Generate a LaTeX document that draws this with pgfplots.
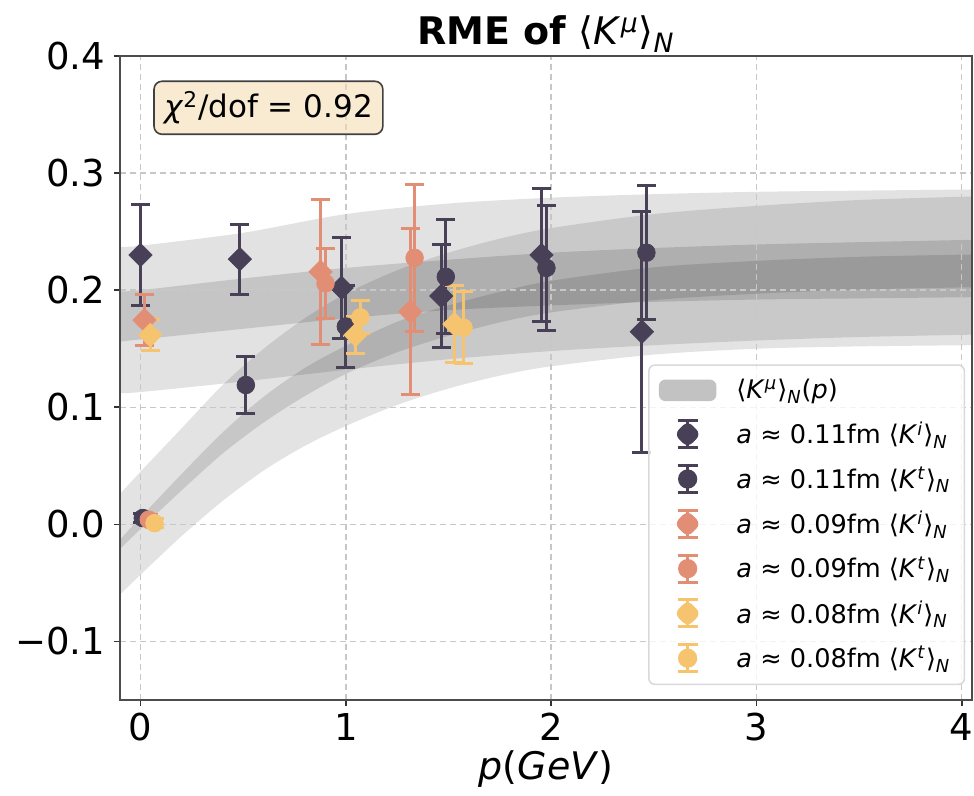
\documentclass[border=0pt]{standalone}
\usepackage{fontspec}
\setmainfont{DejaVu Sans}
\usepackage{pgfplots}
\pgfplotsset{compat=1.18}
\usepackage{pgfplotstable}
\usepgfplotslibrary{fillbetween}

\definecolor{cDark}{RGB}{72,64,86}
\definecolor{cSalmon}{RGB}{226,142,116}
\definecolor{cYellow}{RGB}{246,196,110}
\definecolor{wheat}{RGB}{245,222,179}

\newcommand{\Km}[1]{⟨\textit{K}\textsuperscript{\textit{#1}}⟩\textsubscript{\textit{N}}}

% fit bands: p lo hi
\pgfplotstableread{
p lo hi
-0.1 0.112 0.237
0.0 0.113 0.238
0.5 0.122 0.249
1.0 0.132 0.265
1.5 0.141 0.274
2.0 0.148 0.279
2.5 0.153 0.282
3.0 0.157 0.284
3.5 0.160 0.285
4.05 0.162 0.286
}\KiOuter
\pgfplotstableread{
p lo hi
-0.1 0.156 0.199
0.0 0.158 0.200
0.5 0.167 0.210
1.0 0.176 0.219
1.5 0.183 0.226
2.0 0.187 0.232
2.5 0.190 0.236
3.0 0.192 0.239
3.5 0.193 0.241
4.05 0.194 0.243
}\KiInner
\pgfplotstableread{
p lo hi
-0.1 -0.060 0.026
0.0 -0.043 0.045
0.2 -0.010 0.082
0.4 0.020 0.119
0.6 0.046 0.150
0.8 0.067 0.176
1.0 0.084 0.197
1.25 0.102 0.217
1.5 0.116 0.232
1.75 0.127 0.244
2.0 0.135 0.253
2.5 0.145 0.265
3.0 0.150 0.272
3.5 0.152 0.277
4.05 0.153 0.280
}\KtOuter
\pgfplotstableread{
p lo hi
-0.1 -0.021 -0.013
0.0 -0.004 0.006
0.2 0.029 0.043
0.4 0.0605 0.0785
0.6 0.087 0.109
0.8 0.1095 0.1335
1.0 0.1285 0.1525
1.25 0.147 0.173
1.5 0.161 0.187
1.75 0.1725 0.1985
2.0 0.181 0.208
2.5 0.1915 0.2195
3.0 0.197 0.225
3.5 0.2005 0.2285
4.05 0.2025 0.2305
}\KtInner

% data points: p v e
\pgfplotstableread{
p v e
0.000 0.230 0.043
0.484 0.2265 0.030
0.979 0.202 0.043
1.465 0.195 0.044
1.953 0.230 0.057
2.442 0.1645 0.103
}\dKi
\pgfplotstableread{
p v e
0.011 0.0054 0.004
0.513 0.119 0.0245
1.000 0.169 0.035
1.487 0.2114 0.0486
1.977 0.219 0.0535
2.464 0.232 0.057
}\dKt
\pgfplotstableread{
p v e
0.019 0.1745 0.022
0.877 0.2157 0.062
1.314 0.1816 0.071
}\sKi
\pgfplotstableread{
p v e
0.040 0.004 0.004
0.901 0.2058 0.030
1.335 0.2276 0.063
}\sKt
\pgfplotstableread{
p v e
0.047 0.1617 0.013
1.047 0.1617 0.016
1.529 0.171 0.033
}\yKi
\pgfplotstableread{
p v e
0.068 0.001 0.004
1.071 0.1768 0.014
1.573 0.168 0.031
}\yKt

\pgfplotsset{
  errpts/.style={only marks,
    error bars/.cd, y dir=both, y explicit,
    error bar style={line width=1.5pt, opacity=1},
    error mark options={rotate=90, line width=1.5pt, mark size=4.75pt}},
  dia/.style={mark=square*, mark size=4.1pt, mark options={rotate=45, fill=#1, draw=#1, opacity=1}},
  circ/.style={mark=*, mark size=4.4pt, mark options={fill=#1, draw=#1, opacity=1}},
  legdia/.style={legend image code/.code={
     \path (0pt,0pt) (36pt,0pt);
     \draw[#1, line width=1.5pt, draw opacity=1] (14pt,-6.75pt) -- (14pt,6.75pt);
     \draw[#1, line width=1.5pt, draw opacity=1] (9pt,-6.75pt) -- (19pt,-6.75pt);
     \draw[#1, line width=1.5pt, draw opacity=1] (9pt,6.75pt) -- (19pt,6.75pt);
     \fill[#1, fill opacity=1] (14pt,-6.2pt) -- (20.2pt,0pt) -- (14pt,6.2pt) -- (7.8pt,0pt) -- cycle;}},
  legcirc/.style={legend image code/.code={
     \path (0pt,0pt) (36pt,0pt);
     \draw[#1, line width=1.5pt, draw opacity=1] (14pt,-6.75pt) -- (14pt,6.75pt);
     \draw[#1, line width=1.5pt, draw opacity=1] (9pt,-6.75pt) -- (19pt,-6.75pt);
     \draw[#1, line width=1.5pt, draw opacity=1] (9pt,6.75pt) -- (19pt,6.75pt);
     \fill[#1, fill opacity=1] (14pt,0pt) circle (4.4pt);}},
}

\begin{document}
\begin{tikzpicture}
\begin{axis}[
  set layers,
  scale only axis, width=426pt, height=322pt,
  at={(0,0)}, anchor=south west,
  xmin=-0.1, xmax=4.05, ymin=-0.15, ymax=0.4,
  xtick={0,1,2,3,4}, xticklabels={0,1,2,3,4},
  ytick={-0.1,0,0.1,0.2,0.3,0.4}, yticklabels={−0.1,0.0,0.1,0.2,0.3,0.4},
  tick label style={font=\fontsize{18.5}{22}\selectfont},
  yticklabel style={xshift=-1pt},
  tick align=outside, tick pos=left, major tick length=3pt,
  tick style={black!80, line width=0.8pt},
  axis line style={black!70, line width=1pt},
  grid=major,
  grid style={black!22, line width=0.7pt, dash pattern=on 3pt off 2pt},
  title={\textbf{RME of} \Km{μ}},
  title style={font=\fontsize{19}{23}\selectfont, at={(rel axis cs:0.5,1)}, anchor=base, yshift=-0.5pt},
  xlabel={\textit{p}(\textit{GeV})},
  xlabel style={font=\fontsize{19}{23}\selectfont, at={(rel axis cs:0.5,0)}, anchor=base, yshift=-40pt},
  legend cell align=left,
  legend style={at={(rel axis cs:0.992,0.023)}, anchor=south east,
    draw=black!15, line width=0.8pt, rounded corners=3pt,
    fill=white, fill opacity=0.8, text opacity=1,
    font=\fontsize{12.8}{15}\selectfont, row sep=6pt,
    inner xsep=5pt, inner ysep=5pt},
]
% bands
\addplot[draw=none, mark=none, smooth, forget plot, name path=A1] table[x=p,y=hi]{\KiOuter};
\addplot[draw=none, mark=none, smooth, forget plot, name path=A2] table[x=p,y=lo]{\KiOuter};
\addplot[fill=black, fill opacity=0.115, draw=none, forget plot] fill between[of=A1 and A2, on layer=axis background];
\addplot[draw=none, mark=none, smooth, forget plot, name path=B1] table[x=p,y=hi]{\KiInner};
\addplot[draw=none, mark=none, smooth, forget plot, name path=B2] table[x=p,y=lo]{\KiInner};
\addplot[fill=black, fill opacity=0.13, draw=none, forget plot] fill between[of=B1 and B2, on layer=axis background];
\addplot[draw=none, mark=none, smooth, forget plot, name path=C1] table[x=p,y=hi]{\KtOuter};
\addplot[draw=none, mark=none, smooth, forget plot, name path=C2] table[x=p,y=lo]{\KtOuter};
\addplot[fill=black, fill opacity=0.11, draw=none, forget plot] fill between[of=C1 and C2, on layer=axis background];
\addplot[draw=none, mark=none, smooth, forget plot, name path=D1] table[x=p,y=hi]{\KtInner};
\addplot[draw=none, mark=none, smooth, forget plot, name path=D2] table[x=p,y=lo]{\KtInner};
\addplot[fill=black, fill opacity=0.12, draw=none, forget plot] fill between[of=D1 and D2, on layer=axis background];

\addlegendimage{legend image code/.code={\path (0pt,0pt) (36pt,0pt); \fill[black!24, fill opacity=1] (0pt,-5pt) rectangle (28pt,5pt);}}
\addlegendentry{\Km{μ}(\textit{p})}

\addplot[cDark, dia=cDark, legdia=cDark, errpts] table[x=p,y=v,y error=e]{\dKi};
\addlegendentry{\textit{a} ≈ 0.11fm \Km{i}}
\addplot[cDark, circ=cDark, legcirc=cDark, errpts] table[x=p,y=v,y error=e]{\dKt};
\addlegendentry{\textit{a} ≈ 0.11fm \Km{t}}
\addplot[cSalmon, dia=cSalmon, legdia=cSalmon, errpts] table[x=p,y=v,y error=e]{\sKi};
\addlegendentry{\textit{a} ≈ 0.09fm \Km{i}}
\addplot[cSalmon, circ=cSalmon, legcirc=cSalmon, errpts] table[x=p,y=v,y error=e]{\sKt};
\addlegendentry{\textit{a} ≈ 0.09fm \Km{t}}
\addplot[cYellow, dia=cYellow, legdia=cYellow, errpts] table[x=p,y=v,y error=e]{\yKi};
\addlegendentry{\textit{a} ≈ 0.08fm \Km{i}}
\addplot[cYellow, circ=cYellow, legcirc=cYellow, errpts] table[x=p,y=v,y error=e]{\yKt};
\addlegendentry{\textit{a} ≈ 0.08fm \Km{t}}

\node[anchor=north west, draw=black!75, line width=0.8pt, rounded corners=4pt,
  fill=wheat, fill opacity=0.6, text opacity=1, font=\fontsize{15.5}{18}\selectfont,
  inner xsep=5pt, inner ysep=5pt] at (rel axis cs:0.039,0.962)
  {\textit{χ}\textsuperscript{2}/dof = 0.92};
\end{axis}
\pgfresetboundingbox
\path[use as bounding box] (-60pt,-48pt) rectangle (427pt,350pt);
\end{tikzpicture}
\end{document}
